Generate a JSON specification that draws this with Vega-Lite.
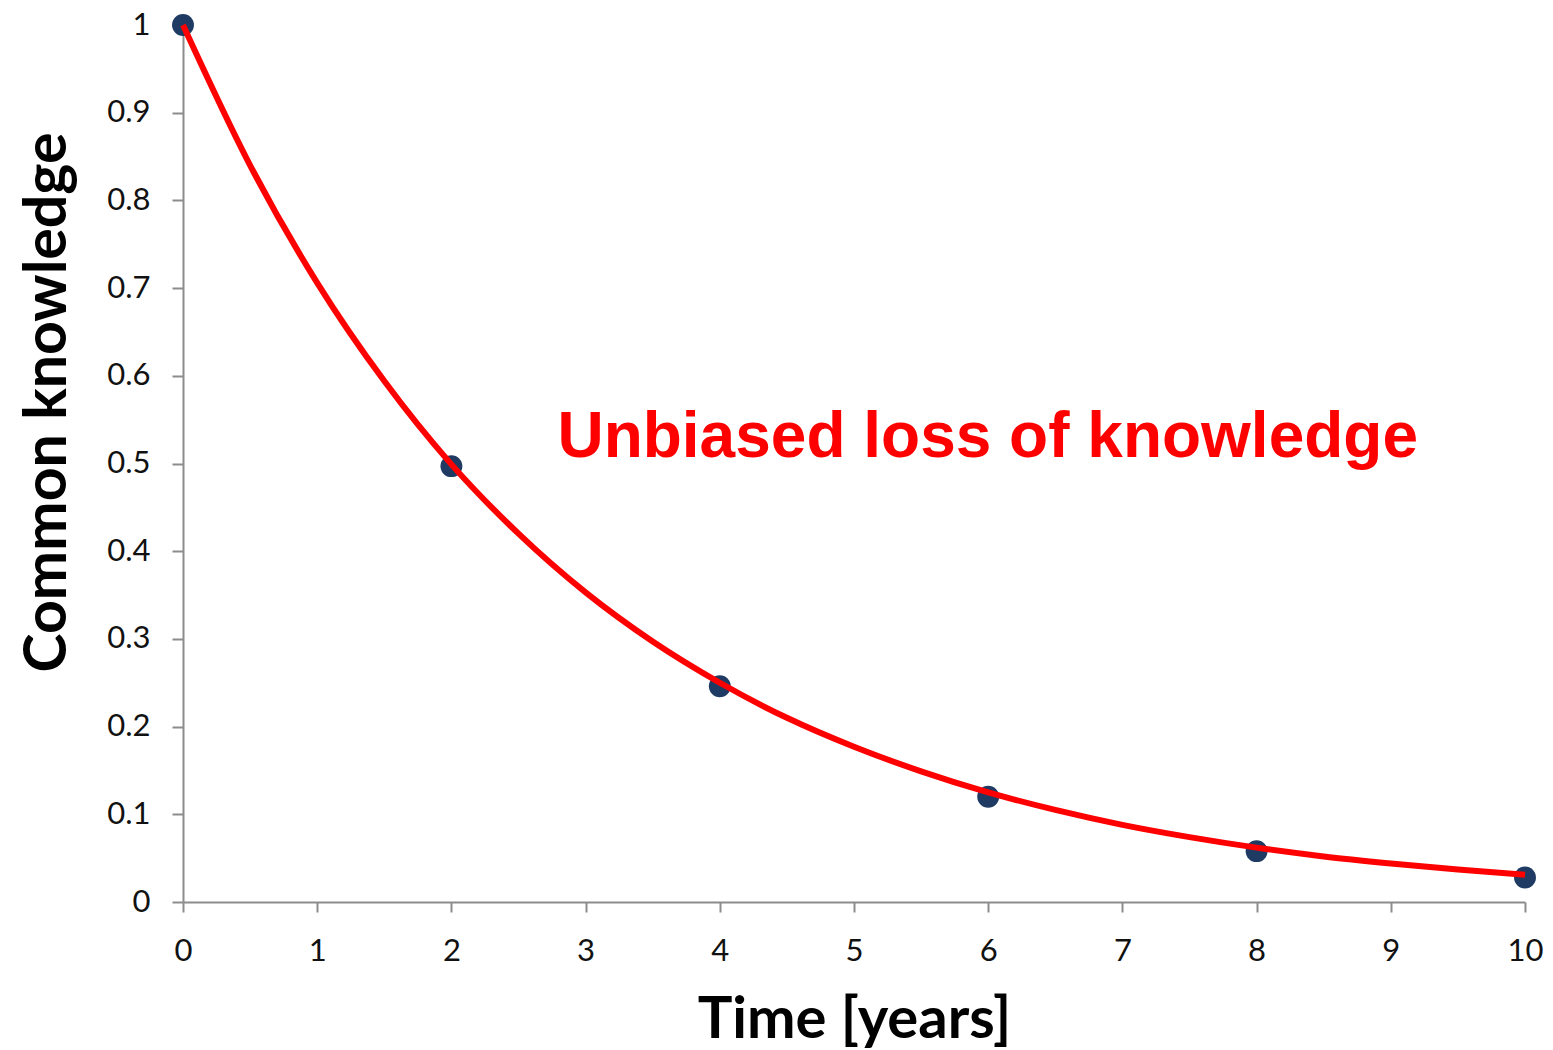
{
  "$schema": "https://vega.github.io/schema/vega-lite/v6.json",
  "width": 1342,
  "height": 877,
  "autosize": "none",
  "padding": {"left": 183, "top": 25, "right": 28, "bottom": 148},
  "background": "white",
  "config": {"view": {"stroke": null}},
  "datasets": {
    "points": [
      {"t": 0, "k": 1.0},
      {"t": 2, "k": 0.497},
      {"t": 4, "k": 0.246},
      {"t": 6, "k": 0.12},
      {"t": 8, "k": 0.058},
      {"t": 10, "k": 0.028}
    ],
    "curve": [
      {"t": 0, "k": 1.0},
      {"t": 0.5, "k": 0.84},
      {"t": 1, "k": 0.706},
      {"t": 1.5, "k": 0.594},
      {"t": 2, "k": 0.499},
      {"t": 2.5, "k": 0.42},
      {"t": 3, "k": 0.353},
      {"t": 3.5, "k": 0.297},
      {"t": 4, "k": 0.25},
      {"t": 4.5, "k": 0.21},
      {"t": 5, "k": 0.177},
      {"t": 5.5, "k": 0.149},
      {"t": 6, "k": 0.125},
      {"t": 6.5, "k": 0.105},
      {"t": 7, "k": 0.088},
      {"t": 7.5, "k": 0.074},
      {"t": 8, "k": 0.062},
      {"t": 8.5, "k": 0.052},
      {"t": 9, "k": 0.044},
      {"t": 9.5, "k": 0.037},
      {"t": 10, "k": 0.031}
    ],
    "label": [
      {"t": 2.79, "k": 0.507, "text": "Unbiased loss of knowledge"}
    ]
  },
  "layer": [
    {
      "data": {"name": "points"},
      "mark": {"type": "circle", "size": 480, "color": "#1f3b63", "opacity": 1},
      "encoding": {
        "x": {
          "field": "t", "type": "quantitative",
          "scale": {"domain": [0, 10], "nice": false},
          "axis": {
            "title": "Time [years]",
            "values": [0,1,2,3,4,5,6,7,8,9,10],
            "format": "~g",
            "grid": false,
            "domainColor": "#8c8c8c", "domainWidth": 2,
            "tickColor": "#8c8c8c", "tickWidth": 2, "tickSize": 10,
            "labelFont": "Lato", "labelFontSize": 31, "labelColor": "#111111",
            "labelPadding": 24, "labelFlush": false,
            "titleFont": "Lato", "titleFontSize": 58, "titleFontWeight": "bold", "titleColor": "#000000",
            "titleY": 135, "titleBaseline": "alphabetic"
          }
        },
        "y": {
          "field": "k", "type": "quantitative",
          "scale": {"domain": [0, 1], "nice": false},
          "axis": {
            "title": "Common knowledge",
            "values": [0,0.1,0.2,0.3,0.4,0.5,0.6,0.7,0.8,0.9,1],
            "format": "~g",
            "grid": false,
            "domainColor": "#8c8c8c", "domainWidth": 2,
            "tickColor": "#8c8c8c", "tickWidth": 2, "tickSize": 11,
            "labelFont": "Lato", "labelFontSize": 31, "labelColor": "#111111",
            "labelPadding": 22, "labelFlush": false,
            "titleFont": "Lato", "titleFontSize": 59, "titleFontWeight": "bold", "titleColor": "#000000",
            "titleX": -136, "titleY": 377, "titleAlign": "center", "titleBaseline": "middle", "titleAngle": -90
          }
        }
      }
    },
    {
      "data": {"name": "curve"},
      "mark": {"type": "line", "color": "#ff0000", "strokeWidth": 6, "interpolate": "monotone"},
      "encoding": {
        "x": {"field": "t", "type": "quantitative"},
        "y": {"field": "k", "type": "quantitative"}
      }
    },
    {
      "data": {"name": "label"},
      "mark": {"type": "text", "font": "Liberation Sans", "fontWeight": "bold", "fontSize": 64, "color": "#ff0000", "align": "left", "baseline": "alphabetic"},
      "encoding": {
        "x": {"field": "t", "type": "quantitative"},
        "y": {"field": "k", "type": "quantitative"},
        "text": {"field": "text"}
      }
    }
  ]
}
